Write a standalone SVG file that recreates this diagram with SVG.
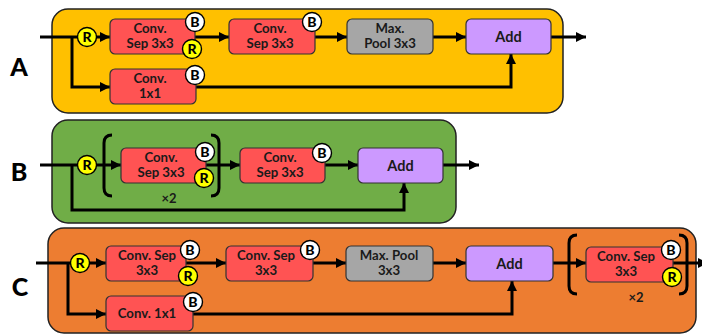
<svg xmlns="http://www.w3.org/2000/svg" width="702" height="335" viewBox="0 0 702 335">
<defs>
<marker id="ah" viewBox="0 0 10 10" refX="10" refY="5" markerWidth="10" markerHeight="10" markerUnits="userSpaceOnUse" orient="auto">
<path d="M0,0 L10,5 L0,10 z" fill="#000"/>
</marker>
</defs>
<style>
.panel{stroke:#222;stroke-width:1.5}
.box{stroke:#333;stroke-width:1.2}
.conv{fill:#FF5353}
.pool{fill:#A6A6A6}
.add{fill:#CC99FF}
.t{font-family:Lato,"Open Sans",sans-serif;font-weight:bold;font-size:13.2px;fill:#1a1a1a;text-anchor:middle}
.ta{font-family:Lato,"Open Sans",sans-serif;font-weight:bold;font-size:14.5px;fill:#1a1a1a;text-anchor:middle}
.lbl{font-family:Lato,"Open Sans",sans-serif;font-weight:900;font-size:25px;fill:#000;text-anchor:middle}
.c{stroke:#000;stroke-width:1.4}
.cb{fill:#fff}
.cr{fill:#FFFF00}
.ct{font-family:Lato,"Open Sans",sans-serif;font-weight:900;font-size:14px;fill:#000;text-anchor:middle}
.ln{fill:none;stroke:#000;stroke-width:3}
.br{fill:none;stroke:#000;stroke-width:3}
.x2{font-family:Lato,"Open Sans",sans-serif;font-weight:bold;font-size:13px;fill:#1a1a1a;text-anchor:middle}
</style>

<g id="panels">
<rect class="panel" x="52" y="9" width="511" height="104" rx="16" fill="#FFC000"/>
<rect class="panel" x="52" y="120" width="404" height="103" rx="16" fill="#70AD47"/>
<rect class="panel" x="48" y="228" width="648" height="105" rx="16" fill="#ED7D31"/>
<text class="lbl" x="19" y="76">A</text>
<text class="lbl" x="19" y="181">B</text>
<text class="lbl" x="20" y="296">C</text>
</g>

<g id="connectors">
<path class="ln" marker-end="url(#ah)" d="M40,37 H110"/>
<path class="ln" marker-end="url(#ah)" d="M72,37 V87 H110"/>
<path class="ln" marker-end="url(#ah)" d="M195,37 H229"/>
<path class="ln" marker-end="url(#ah)" d="M315,37 H347"/>
<path class="ln" marker-end="url(#ah)" d="M433,37 H466"/>
<path class="ln" marker-end="url(#ah)" d="M551,37 H586"/>
<path class="ln" marker-end="url(#ah)" d="M196,87 H511 V54"/>

<path class="ln" marker-end="url(#ah)" d="M40,165 H121"/>
<path class="ln" marker-end="url(#ah)" d="M72,165 V210 H404 V183"/>
<path class="ln" marker-end="url(#ah)" d="M206,165 H240"/>
<path class="ln" marker-end="url(#ah)" d="M325,165 H358"/>
<path class="ln" marker-end="url(#ah)" d="M443,165 H479"/>

<path class="ln" marker-end="url(#ah)" d="M36,263 H106"/>
<path class="ln" marker-end="url(#ah)" d="M68,263 V314 H106"/>
<path class="ln" marker-end="url(#ah)" d="M184,263 H226"/>
<path class="ln" marker-end="url(#ah)" d="M313,263 H346"/>
<path class="ln" marker-end="url(#ah)" d="M433,263 H466"/>
<path class="ln" marker-end="url(#ah)" d="M553,263 H586"/>
<path class="ln" marker-end="url(#ah)" d="M673,263 H708"/>
<path class="ln" marker-end="url(#ah)" d="M193,314 H512 V281"/>
</g>

<g id="A-R">
<circle class="c cr" cx="87" cy="37" r="9.5"/><text class="ct" x="87" y="42">R</text>
</g>
<g id="A-conv1">
<rect class="box conv" x="110" y="19" width="85" height="35" rx="5"/>
<text class="t" x="150" y="33">Conv.</text><text class="t" x="150" y="48">Sep 3x3</text>
<circle class="c cb" cx="195" cy="22" r="9.5"/><text class="ct" x="195" y="27">B</text>
<circle class="c cr" cx="192" cy="49" r="9.5"/><text class="ct" x="192" y="54">R</text>
</g>
<g id="A-conv2">
<rect class="box conv" x="229" y="19" width="86" height="35" rx="5"/>
<text class="t" x="270" y="33">Conv.</text><text class="t" x="270" y="48">Sep 3x3</text>
<circle class="c cb" cx="312" cy="22" r="9.5"/><text class="ct" x="312" y="27">B</text>
</g>
<g id="A-pool">
<rect class="box pool" x="347" y="19" width="86" height="35" rx="5"/>
<text class="t" x="390" y="33">Max.</text><text class="t" x="390" y="48">Pool 3x3</text>
</g>
<g id="A-add">
<rect class="box add" x="466" y="19" width="85" height="35" rx="5"/>
<text class="ta" x="508.5" y="41.5">Add</text>
</g>
<g id="A-conv1x1">
<rect class="box conv" x="110" y="69" width="86" height="35" rx="5"/>
<text class="t" x="150" y="83">Conv.</text><text class="t" x="150" y="98">1x1</text>
<circle class="c cb" cx="195" cy="75" r="9.5"/><text class="ct" x="195" y="80">B</text>
</g>

<g id="B-R">
<circle class="c cr" cx="87" cy="165" r="9.5"/><text class="ct" x="87" y="170">R</text>
</g>
<g id="B-repeat">
<path class="br" d="M112,135 Q104,135 104,143 V188 Q104,196 112,196"/>
<path class="br" d="M211,135 Q219,135 219,143 V188 Q219,196 211,196"/>
<text class="x2" x="169" y="203">×2</text>
</g>
<g id="B-conv1">
<rect class="box conv" x="121" y="148" width="85" height="35" rx="5"/>
<text class="t" x="161" y="162">Conv.</text><text class="t" x="161" y="177">Sep 3x3</text>
<circle class="c cb" cx="205" cy="152" r="9.5"/><text class="ct" x="205" y="157">B</text>
<circle class="c cr" cx="204" cy="178" r="9.5"/><text class="ct" x="204" y="183">R</text>
</g>
<g id="B-conv2">
<rect class="box conv" x="240" y="148" width="85" height="35" rx="5"/>
<text class="t" x="280" y="162">Conv.</text><text class="t" x="280" y="177">Sep 3x3</text>
<circle class="c cb" cx="322" cy="153" r="9.5"/><text class="ct" x="322" y="158">B</text>
</g>
<g id="B-add">
<rect class="box add" x="358" y="148" width="85" height="35" rx="5"/>
<text class="ta" x="400.5" y="170.5">Add</text>
</g>

<g id="C-R">
<circle class="c cr" cx="80" cy="263" r="9.5"/><text class="ct" x="80" y="268">R</text>
</g>
<g id="C-conv1">
<rect class="box conv" x="106" y="246" width="80" height="35" rx="5"/>
<text class="t" x="147" y="260">Conv. Sep</text><text class="t" x="147" y="275">3x3</text>
<circle class="c cb" cx="190" cy="250" r="9.5"/><text class="ct" x="190" y="255">B</text>
<circle class="c cr" cx="188" cy="276" r="9.5"/><text class="ct" x="188" y="281">R</text>
</g>
<g id="C-conv2">
<rect class="box conv" x="226" y="246" width="87" height="35" rx="5"/>
<text class="t" x="266" y="260">Conv. Sep</text><text class="t" x="266" y="275">3x3</text>
<circle class="c cb" cx="310" cy="250" r="9.5"/><text class="ct" x="310" y="255">B</text>
</g>
<g id="C-pool">
<rect class="box pool" x="346" y="246" width="87" height="35" rx="5"/>
<text class="t" x="389" y="260">Max. Pool</text><text class="t" x="389" y="275">3x3</text>
</g>
<g id="C-add">
<rect class="box add" x="466" y="246" width="87" height="35" rx="5"/>
<text class="ta" x="509.5" y="268.5">Add</text>
</g>
<g id="C-conv1x1">
<rect class="box conv" x="106" y="296" width="87" height="35" rx="5"/>
<text class="t" x="147" y="318">Conv. 1x1</text>
<circle class="c cb" cx="193" cy="302" r="9.5"/><text class="ct" x="193" y="307">B</text>
</g>
<g id="C-repeat">
<path class="br" d="M577,235 Q569,235 569,243 V286 Q569,294 577,294"/>
<path class="br" d="M679,235 Q687,235 687,243 V286 Q687,294 679,294"/>
<text class="x2" x="636" y="302">×2</text>
</g>
<g id="C-conv3">
<rect class="box conv" x="586" y="247" width="87" height="35" rx="5"/>
<text class="t" x="626" y="261">Conv. Sep</text><text class="t" x="626" y="276">3x3</text>
<circle class="c cb" cx="671" cy="250" r="9.5"/><text class="ct" x="671" y="255">B</text>
<circle class="c cr" cx="672" cy="277" r="9.5"/><text class="ct" x="672" y="282">R</text>
</g>
</svg>
